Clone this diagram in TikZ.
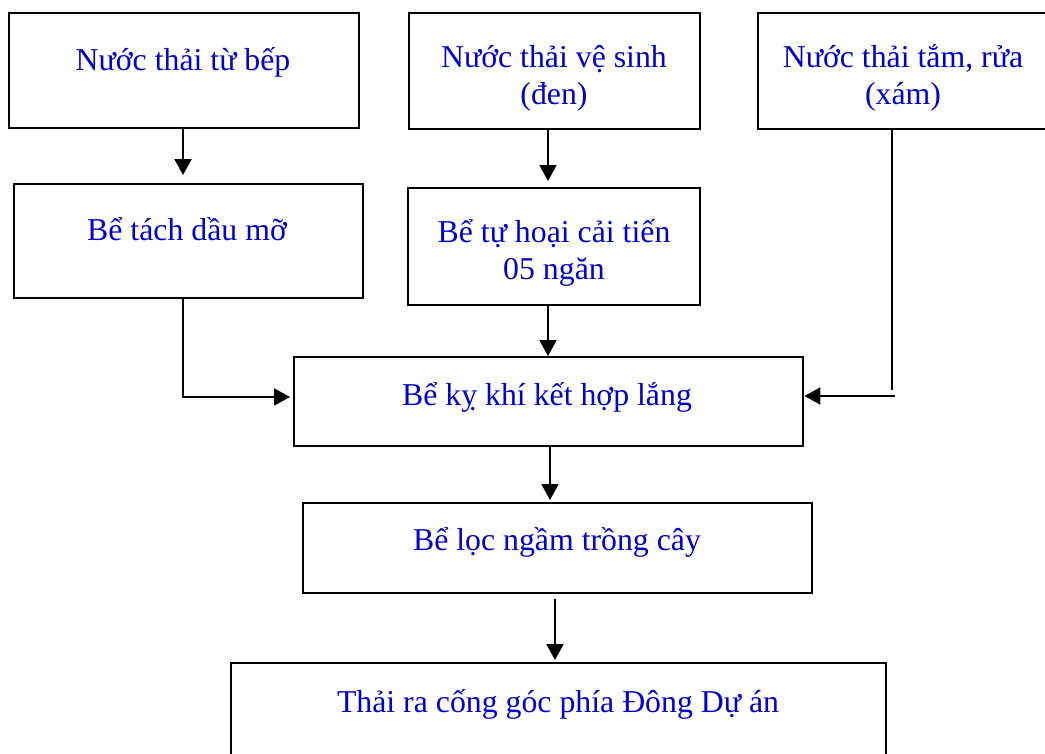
\documentclass[tikz,border=0pt]{standalone}
\usepackage{fontspec}
\setmainfont{Liberation Serif}
\usetikzlibrary{arrows.meta,calc}
\definecolor{txtblue}{RGB}{0,0,204}
\begin{document}
\begin{tikzpicture}[x=1pt,y=-1pt,
  box/.style={draw=black,line width=2.4pt,inner sep=0pt,anchor=north west},
  txt/.style={text=txtblue,font=\fontsize{31.8}{37}\selectfont,inner sep=0pt,align=center,anchor=base},
  arr/.style={draw=black,line width=2pt,-{Triangle[length=16pt,width=17pt]}},
  ln/.style={draw=black,line width=2pt}]
\useasboundingbox (0,0) rectangle (1045,753);
\clip (0,0) rectangle (1045,753);
% boxes
\node[box,minimum width=350pt,minimum height=115pt] (b1) at (8,12) {};
\node[box,minimum width=291pt,minimum height=116pt] (b2) at (408,12) {};
\node[box,minimum width=300pt,minimum height=116pt] (b3) at (757,12) {};
\node[box,minimum width=349pt,minimum height=114pt] (b4) at (13,183) {};
\node[box,minimum width=292pt,minimum height=117pt] (b5) at (407,187) {};
\node[box,minimum width=509pt,minimum height=89pt] (b6) at (293,356) {};
\node[box,minimum width=509pt,minimum height=90pt] (b7) at (302,502) {};
\node[box,minimum width=655pt,minimum height=120pt] (b8) at (230,662) {};
% texts (anchor base = baseline of last line)
\node[txt] (t1) at (183,70) {Nước thải từ bếp};
\node[txt] (t2) at (554,104) {Nước thải vệ sinh\\(đen)};
\node[txt] (t3) at (903,104) {Nước thải tắm, rửa\\(xám)};
\node[txt] (t4) at (187,240) {Bể tách dầu mỡ};
\node[txt] (t5) at (554,279) {Bể tự hoại cải tiến\\05 ngăn};
\node[txt] (t6) at (547,405) {Bể kỵ khí kết hợp lắng};
\node[txt] (t7) at (557,550) {Bể lọc ngầm trồng cây};
\node[txt] (t8) at (558,712) {Thải ra cống góc phía Đông Dự án};
% connector helper coordinates
\coordinate (x1) at (183,0);
\coordinate (x2) at (548,0);
\coordinate (x3) at (892,0);
\coordinate (k3) at (892,390);
\coordinate (k3b) at (895,396);
\coordinate (k4) at (183,397);
\coordinate (x6) at (550,0);
\coordinate (x7) at (555,0);
% connectors
\draw[arr] (x1 |- b1.south) -- ([yshift=8pt]x1 |- b4.north);
\draw[arr] (x2 |- b2.south) -- ([yshift=6pt]x2 |- b5.north);
\draw[ln] (x3 |- b3.south) -- (k3);
\draw[arr] (k3b) -- (b6.east |- k3b);
\draw[arr] (x1 |- b4.south) |- ([xshift=-3pt]b6.west |- k4);
\draw[arr] (x2 |- b5.south) -- (x2 |- b6.north);
\draw[arr] (x6 |- b6.south) -- ([yshift=2pt]x6 |- b7.north);
\draw[arr] ([yshift=-5pt]x7 |- b7.south) -- ([yshift=2pt]x7 |- b8.north);
\end{tikzpicture}
\end{document}
